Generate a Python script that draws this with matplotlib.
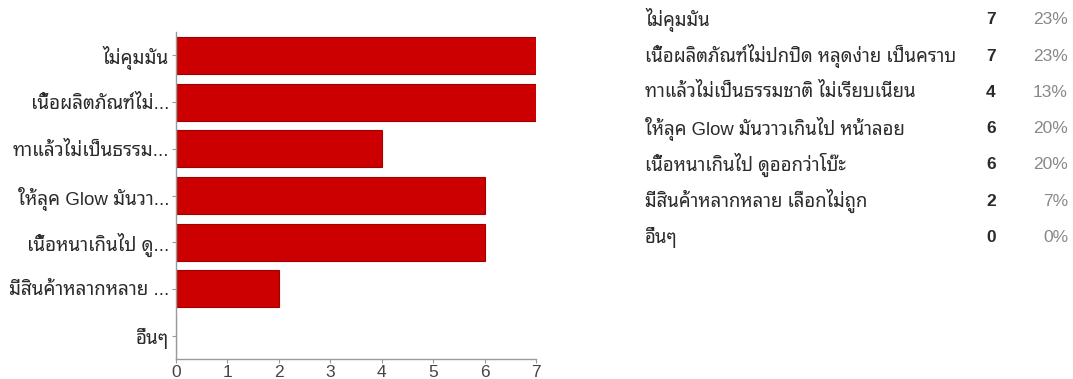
import matplotlib
matplotlib.use("Agg")
import matplotlib.pyplot as plt

FONT = ["Liberation Sans", "Noto Sans Thai Looped", "Loma", "DejaVu Sans"]
plt.rcParams["font.family"] = FONT

# Survey answers (full text), short labels for the bar axis, and counts
answers = [
    "ไม่คุมมัน",
    "เนื้อผลิตภัณฑ์ไม่ปกปิด หลุดง่าย เป็นคราบ",
    "ทาแล้วไม่เป็นธรรมชาติ ไม่เรียบเนียน",
    "ให้ลุค Glow มันวาวเกินไป หน้าลอย",
    "เนื้อหนาเกินไป ดูออกว่าโบ๊ะ",
    "มีสินค้าหลากหลาย เลือกไม่ถูก",
    "อื่นๆ",
]
short_labels = [
    "ไม่คุมมัน",
    "เนื้อผลิตภัณฑ์ไม่...",
    "ทาแล้วไม่เป็นธรรม...",
    "ให้ลุค Glow มันวา...",
    "เนื้อหนาเกินไป ดู...",
    "มีสินค้าหลากหลาย ...",
    "อื่นๆ",
]
counts = [7, 7, 4, 6, 6, 2, 0]
respondents = 30
x_ticks = [0, 1, 2, 3, 4, 5, 6, 7]

W, H = 1073, 379
fig = plt.figure(figsize=(W / 100, H / 100), dpi=100)

# Bar chart on the left
left, right, top, bottom = 176, 536, 32, 359
ax = fig.add_axes([left / W, 1 - bottom / H, (right - left) / W, (bottom - top) / H])
pos = list(range(len(counts)))
ax.barh(pos, counts, height=0.79, color="#cc0000", edgecolor="#a30000", linewidth=0.8)
ax.set_ylim(len(counts) - 0.5, -0.5)
ax.set_xlim(0, 7)
ax.set_yticks(pos)
ax.set_yticklabels(short_labels, fontsize=13.5, color="#2b2b2b")
ax.set_xticks(x_ticks)
ax.set_xticklabels([str(t) for t in x_ticks], fontsize=12.5, color="#444444")
for side in ("top", "right"):
    ax.spines[side].set_visible(False)
for side in ("left", "bottom"):
    ax.spines[side].set_color("#9a9a9a")
    ax.spines[side].set_linewidth(1.0)
ax.tick_params(axis="y", length=3, width=0.8, color="#9a9a9a", pad=2)
ax.tick_params(axis="x", length=3, width=0.8, color="#9a9a9a", pad=1)

# Summary table on the right
row0, row_gap = 20, 36.2
for i, (name, n) in enumerate(zip(answers, counts)):
    y = 1 - (row0 + i * row_gap) / H
    pct = f"{round(100 * n / respondents)}%"
    fig.text(645 / W, y, name, fontsize=13.3, color="#2b2b2b", ha="left", va="center")
    fig.text(991 / W, y, str(n), fontsize=12.5, fontweight="bold", color="#2b2b2b",
             ha="center", va="center")
    fig.text(1068 / W, y, pct, fontsize=12.5, color="#888888", ha="right", va="center")

fig.savefig("out.png", dpi=100)
